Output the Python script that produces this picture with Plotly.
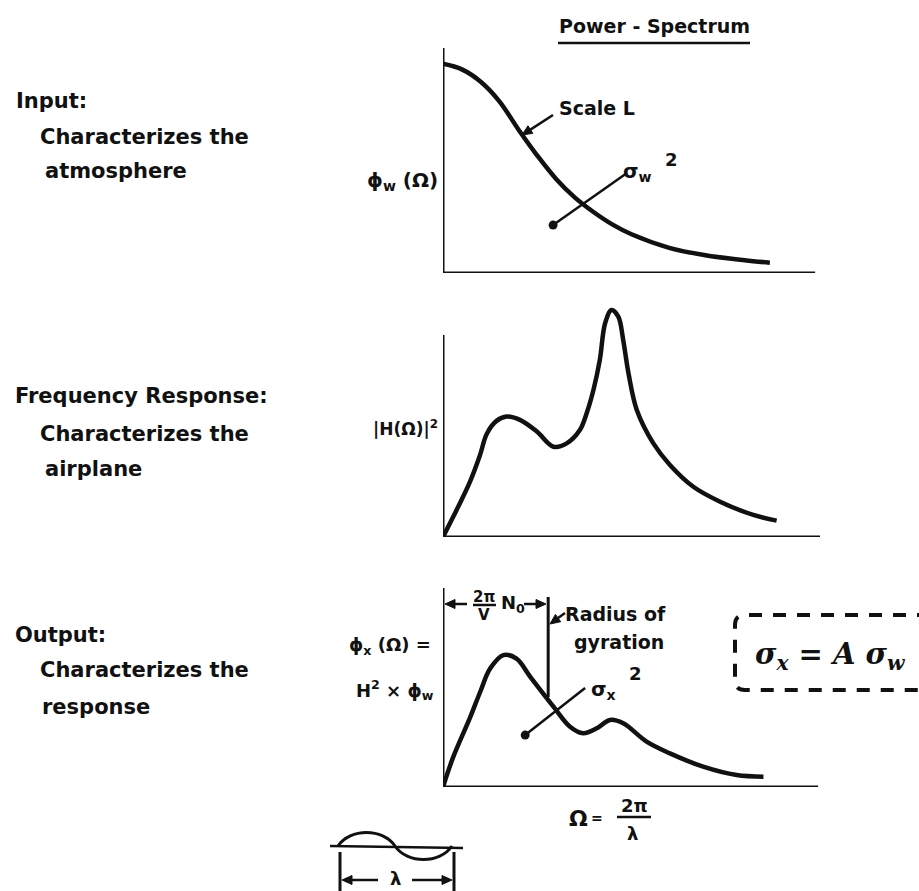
import math
import plotly.graph_objects as go

W, H = 919, 891
INK = "#111111"
FONT = "DejaVu Sans"

# Panel 1: gust input spectrum phi_w(Omega)
omega_w = [0.0, 0.5, 1.0, 1.5, 2.0, 2.5, 3.0, 3.5, 4.0, 4.5, 5.0, 6.0, 7.0, 8.0, 8.67]
phi_w = [9.30, 9.05, 8.50, 7.62, 6.38, 5.22, 4.18, 3.35, 2.70, 2.15, 1.72, 1.12, 0.78, 0.57, 0.46]

# Panel 2: airplane frequency response |H(Omega)|^2
omega_h = [0.0, 0.27, 0.72, 0.98, 1.16, 1.42, 1.69, 2.04, 2.49, 2.93, 3.28, 3.63, 3.81,
           3.99, 4.16, 4.30, 4.47, 4.65, 4.78, 4.92, 5.14, 5.58, 6.02, 6.64, 7.35, 8.23, 8.85]
h_sq = [0.0, 0.85, 2.35, 3.45, 4.35, 4.90, 5.08, 4.94, 4.45, 3.81, 3.95, 4.51, 5.22,
        6.20, 7.47, 9.02, 9.58, 9.30, 8.31, 6.91, 5.36, 3.95, 3.04, 2.12, 1.49, 0.93, 0.69]

# Panel 3: response spectrum phi_x(Omega) = H^2 x phi_w
omega_x = [0.0, 0.27, 0.72, 0.98, 1.25, 1.60, 1.95, 2.31, 2.93, 3.37, 3.72, 4.08, 4.43,
           4.78, 5.40, 6.02, 6.90, 7.79, 8.50]
phi_x = [0.0, 1.50, 3.50, 4.75, 5.95, 6.63, 6.45, 5.55, 4.04, 3.03, 2.70, 2.95, 3.37,
         3.20, 2.28, 1.69, 1.02, 0.60, 0.52]

# pixel -> paper helpers
def PX(px):
    return px / W


def PY(py):
    return 1 - py / H


X_LEFT, X_RIGHT = 443, 820
PANELS = [(48, 273), (300, 537), (588, 787)]  # (top, bottom) in pixels

fig = go.Figure()

curves = [(omega_w, phi_w), (omega_h, h_sq), (omega_x, phi_x)]
for i, (xs, ys) in enumerate(curves):
    sfx = "" if i == 0 else str(i + 1)
    fig.add_trace(go.Scatter(
        x=xs, y=ys, mode="lines",
        line=dict(color=INK, width=4.5, shape="spline", smoothing=1.0),
        xaxis="x" + sfx, yaxis="y" + sfx, hoverinfo="skip", showlegend=False,
    ))

layout_axes = {}
for i, (top, bot) in enumerate(PANELS):
    sfx = "" if i == 0 else str(i + 1)
    layout_axes["xaxis" + sfx] = dict(domain=[PX(X_LEFT), PX(X_RIGHT)], range=[0, 10],
                                      visible=False, anchor="y" + sfx, fixedrange=True)
    layout_axes["yaxis" + sfx] = dict(domain=[PY(bot), PY(top)], range=[0, 10],
                                      visible=False, anchor="x" + sfx, fixedrange=True)

shapes = []

def axline(sfx, x0, y0, x1, y1, width=3):
    shapes.append(dict(type="line", xref="x" + sfx, yref="y" + sfx,
                       x0=x0, y0=y0, x1=x1, y1=y1,
                       line=dict(color=INK, width=width)))


def pline(x0, y0, x1, y1, width=3):
    shapes.append(dict(type="line", xref="paper", yref="paper",
                       x0=PX(x0), y0=PY(y0), x1=PX(x1), y1=PY(y1),
                       line=dict(color=INK, width=width)))


def arrow(hx, hy, tx, ty, width=2.5, head=10, half=4.5):
    """Straight stroke from tail (tx, ty) to a filled head at (hx, hy), in pixels."""
    dx, dy = hx - tx, hy - ty
    n = math.hypot(dx, dy)
    ux, uy = dx / n, dy / n
    bx, by = hx - head * ux, hy - head * uy
    pline(tx, ty, bx, by, width=width)
    p1 = (bx - half * uy, by + half * ux)
    p2 = (bx + half * uy, by - half * ux)
    path = (f"M {PX(hx)},{PY(hy)} L {PX(p1[0])},{PY(p1[1])} "
            f"L {PX(p2[0])},{PY(p2[1])} Z")
    shapes.append(dict(type="path", xref="paper", yref="paper", path=path,
                       fillcolor=INK, line=dict(color=INK, width=1)))


# Axes drawn as plain strokes
axline("", 0, 0, 0, 10)
axline("", 0, 0, 9.87, 0)
axline("2", 0, 0, 0, 8.52)
axline("2", 0, 0, 10, 0)
axline("3", 0, 0, 0, 10)
axline("3", 0, 0, 9.95, 0)

# Radius of gyration marker line
axline("3", 2.79, 4.52, 2.79, 9.55, width=3)

# Leader lines to sigma^2 labels
leaders = [("", (4.88, 4.44), (2.92, 2.13)), ("3", (3.77, 4.97), (2.18, 2.61))]
for sfx, (x0, y0), (x1, y1) in leaders:
    fig.add_trace(go.Scatter(x=[x0, x1], y=[y0, y1], mode="lines",
                             line=dict(color=INK, width=2.5),
                             xaxis="x" + sfx, yaxis="y" + sfx,
                             hoverinfo="skip", showlegend=False))
    fig.add_trace(go.Scatter(x=[x1], y=[y1], mode="markers",
                             marker=dict(color=INK, size=9),
                             xaxis="x" + sfx, yaxis="y" + sfx,
                             hoverinfo="skip", showlegend=False))

# Title underline
pline(558, 43, 750, 43, width=2.5)

# Fraction bars
pline(473, 605, 496, 605, width=2.5)
pline(617, 817, 651, 817, width=2.5)

# Dashed box around sigma relation
x0b, x1b, y0b, y1b, r = 735, 930, 615, 690, 10
box_path = (
    f"M {PX(x1b)},{PY(y0b)} L {PX(x0b + r)},{PY(y0b)} "
    f"Q {PX(x0b)},{PY(y0b)} {PX(x0b)},{PY(y0b + r)} "
    f"L {PX(x0b)},{PY(y1b - r)} "
    f"Q {PX(x0b)},{PY(y1b)} {PX(x0b + r)},{PY(y1b)} "
    f"L {PX(x1b)},{PY(y1b)}"
)
shapes.append(dict(type="path", xref="paper", yref="paper", path=box_path,
                   line=dict(color=INK, width=4, dash="13px,11px")))

# Wavelength sketch under the frequency axis
pline(330, 846, 463, 848, width=2.5)
wave_path = (
    f"M {PX(338)},{PY(846)} C {PX(350)},{PY(828)} {PX(383)},{PY(828)} {PX(395)},{PY(846)} "
    f"C {PX(407)},{PY(864)} {PX(440)},{PY(864)} {PX(452)},{PY(846)}"
)
shapes.append(dict(type="path", xref="paper", yref="paper", path=wave_path,
                   line=dict(color=INK, width=3)))
pline(340, 852, 340, 895, width=3)
pline(454, 852, 454, 895, width=3)

# Dimension arrows
arrow(445, 604, 467, 604)
arrow(546, 604, 524, 604)
arrow(550, 624, 565, 613)
arrow(522, 135, 553, 115)
arrow(342, 880, 378, 880)
arrow(452, 880, 412, 880)

annotations = []

def txt(s, x, y, size=20, anchor="left", **font_kw):
    f = dict(family=FONT, size=size, color=INK, weight="bold")
    f.update(font_kw)
    annotations.append(dict(text=s, x=PX(x), y=PY(y), xref="paper", yref="paper",
                            xanchor=anchor, yanchor="middle", showarrow=False, font=f))


# Left-hand descriptions
txt("Input:", 14, 101, size=21)
txt("Characterizes the", 38, 137, size=21)
txt("atmosphere", 43, 171, size=21)
txt("Frequency Response:", 13, 396, size=21)
txt("Characterizes the", 38, 434, size=21)
txt("airplane", 43, 469, size=21)
txt("Output:", 13, 635, size=21)
txt("Characterizes the", 38, 670, size=21)
txt("response", 40, 707, size=21)

# Heading
txt("Power - Spectrum", 654, 26, size=19, anchor="center")

# Axis labels
txt("ϕ<sub>w</sub> (Ω)", 440, 181, size=20, anchor="right")
txt("|H(Ω)|<sup>2</sup>", 440, 428, size=17, anchor="right")
txt("ϕ<sub>x</sub> (Ω) =", 433, 646, size=18, anchor="right")
txt("H<sup>2</sup> × ϕ<sub>w</sub>", 436, 690, size=18, anchor="right")

# Curve annotations
txt("Scale L", 557, 108, size=19)
txt("σ<sub>w</sub>", 621, 172, size=20)
txt("2", 663, 160, size=18)
txt("σ<sub>x</sub>", 589, 690, size=20)
txt("2", 627, 673, size=18)

# Dimension 2*pi/V * N0
txt("2π", 484, 597, size=15, anchor="center")
txt("V", 484, 615, size=15, anchor="center")
txt("N<sub>0</sub>", 499, 604, size=18)
txt("Radius of", 563, 614, size=19)
txt("gyration", 572, 642, size=19)

# Frequency definition
txt("Ω", 578, 818, size=22, anchor="center")
txt("=", 597, 818, size=14, anchor="center")
txt("2π", 634, 805, size=18, anchor="center")
txt("λ", 632, 833, size=18, anchor="center")

# Boxed relation
txt("σ<sub>x</sub> = A σ<sub>w</sub>", 830, 656, size=29, anchor="center",
    family="DejaVu Serif", style="italic")

# Wavelength dimension
txt("λ", 395, 878, size=18, anchor="center")

fig.update_layout(
    width=W, height=H,
    margin=dict(l=0, r=0, t=0, b=0),
    paper_bgcolor="white", plot_bgcolor="white",
    shapes=shapes, annotations=annotations,
    showlegend=False,
    **layout_axes,
)

fig.write_html("out.html", config={"displayModeBar": False})
